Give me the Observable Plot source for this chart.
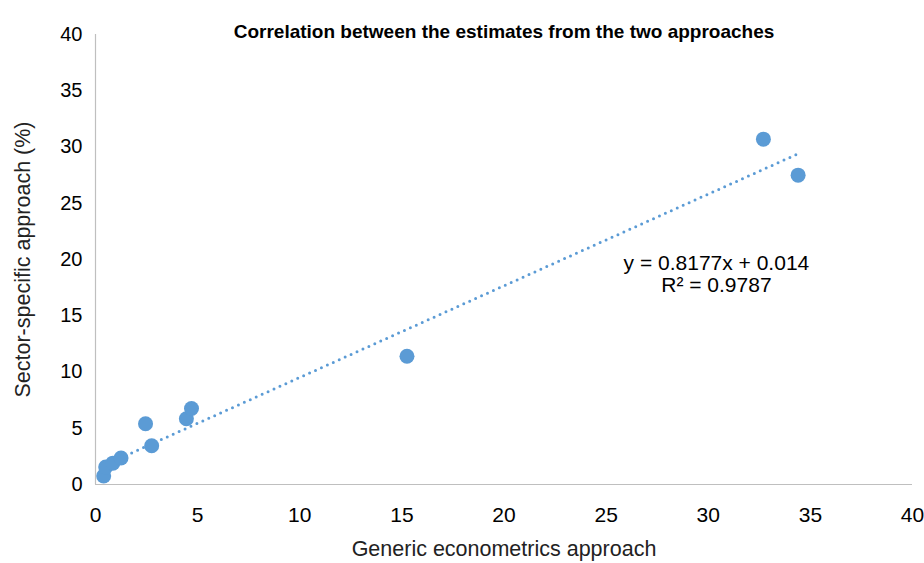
<!DOCTYPE html>
<html>
<head>
<meta charset="utf-8">
<script src="https://cdn.jsdelivr.net/npm/d3@7"></script>
<script src="https://cdn.jsdelivr.net/npm/@observablehq/plot@0.6"></script>
<style>
  html, body { margin: 0; padding: 0; background: #fff; }
  #chart svg { display: block; }
</style>
</head>
<body>
<div id="chart"></div>
<script>
const title = "Correlation between the estimates from the two approaches";
const xLabel = "Generic econometrics approach";
const yLabel = "Sector-specific approach (%)";
const xTicks = [0, 5, 10, 15, 20, 25, 30, 35, 40];
const yTicks = [0, 5, 10, 15, 20, 25, 30, 35, 40];

// Scatter points
const generic = [0.4, 0.5, 0.85, 1.25, 2.45, 2.75, 4.45, 4.7, 15.25, 32.7, 34.4];
const sector  = [0.75, 1.55, 1.9, 2.35, 5.4, 3.45, 5.85, 6.75, 11.4, 30.7, 27.5];

// Trendline endpoints as drawn in the picture
const trendX = [0.9, 34.4];
const trendY = [2.1, 29.4];

const equation = ["y = 0.8177x + 0.014", "R² = 0.9787"];

const points = generic.map((g, i) => ({x: g, y: sector[i]}));
const trend = trendX.map((t, i) => ({x: t, y: trendY[i]}));

const blue = "#5b9bd5";
const font = "Liberation Sans, Arial, Helvetica, sans-serif";

const chart = Plot.plot({
  width: 924,
  height: 563,
  marginLeft: 95,
  marginRight: 12,
  marginTop: 34,
  marginBottom: 79,
  style: {fontFamily: font, background: "#fff", color: "#000"},
  x: {domain: [0, 40]},
  y: {domain: [0, 40]},
  marks: [
    Plot.ruleX([0], {stroke: "#bfbfbf", strokeWidth: 1.2}),
    Plot.ruleY([0], {stroke: "#bfbfbf", strokeWidth: 1.2}),
    Plot.axisX({ticks: xTicks, tickSize: 0, tickPadding: 23, fontSize: 21, label: null, tickFormat: d => d}),
    Plot.axisY({ticks: yTicks, tickSize: 0, tickPadding: 13, fontSize: 20, label: null, tickFormat: d => d}),
    Plot.line(trend, {x: "x", y: "y", stroke: blue, strokeWidth: 3, strokeDasharray: "0 6.5", strokeLinecap: "round"}),
    Plot.dot(points, {x: "x", y: "y", r: 7.5, fill: blue, stroke: "none"}),
    Plot.text([equation.join("\n")], {x: 30.4, y: 18.75, text: d => d, fontSize: 21, lineHeight: 1.05, textAnchor: "middle", fill: "#000"}),
    Plot.text([title], {frameAnchor: "top", dy: -10, text: d => d, fontSize: 19, fontWeight: "bold", fill: "#000"}),
    Plot.text([xLabel], {frameAnchor: "bottom", dy: 71, text: d => d, fontSize: 21.5, fill: "#222"}),
    Plot.text([yLabel], {frameAnchor: "left", dx: -72, rotate: -90, textAnchor: "middle", text: d => d, fontSize: 21.5, fill: "#222"})
  ]
});
document.getElementById("chart").append(chart);
</script>
</body>
</html>
